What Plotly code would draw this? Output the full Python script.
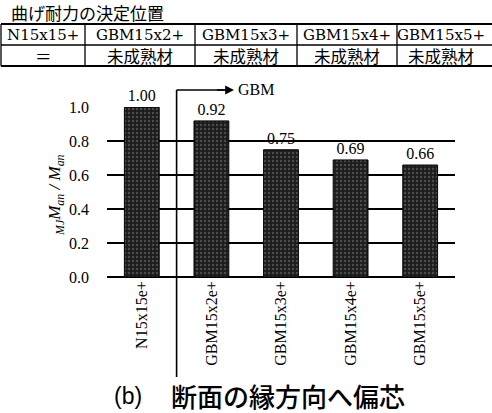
import plotly.graph_objects as go

categories = ["N15x15e+", "GBM15x2e+", "GBM15x3e+", "GBM15x4e+", "GBM15x5e+"]
values = [1.00, 0.92, 0.75, 0.69, 0.66]
y_ticks = [0.0, 0.2, 0.4, 0.6, 0.8, 1.0]
y_tick_text = ["0.0", "0.2", "0.4", "0.6", "0.8", "1.0"]
table_title = "曲げ耐力の決定位置"
table_header = ["N15x15+", "GBM15x2+", "GBM15x3+", "GBM15x4+", "GBM15x5+"]
table_row = ["＝", "未成熟材", "未成熟材", "未成熟材", "未成熟材"]
y_title = "<i><sub>MJ</sub>M<sub>an</sub> / M<sub>an</sub></i>"
caption_label = "(b)"
caption_text = "断面の縁方向へ偏芯"
group_label = "GBM"

W, H = 492, 413
L, R, T, B = 107, 455, 107, 277


def px_x(p):
    return (p - L) / (R - L)


def px_y(p):
    return (B - p) / (B - T)


SERIF = "Liberation Serif, Times New Roman, serif"
TSERIF = "DejaVu Serif, serif"
JP = "Noto Sans CJK JP, sans-serif"

fig = go.Figure()
fig.add_trace(go.Bar(
    x=categories, y=values, width=0.5,
    marker=dict(color="#1c1c1c", line=dict(color="#000", width=1),
                pattern=dict(shape=".", fgcolor="#7a7a7a", size=4, solidity=0.3)),
    text=[f"{v:.2f}" for v in values], textposition="outside",
    textfont=dict(family=SERIF, size=16, color="#000"),
    cliponaxis=False, showlegend=False,
))

fig.update_layout(
    width=W, height=H,
    margin=dict(l=L, r=W - R, t=T, b=H - B, autoexpand=False),
    paper_bgcolor="white", plot_bgcolor="white",
    bargap=0.5,
    xaxis=dict(range=[-0.5, 4.5], tickangle=-90, showgrid=False, ticks="",
               tickfont=dict(family=SERIF, size=16, color="#000"),
               showline=False, zeroline=False, fixedrange=True, automargin=False),
    yaxis=dict(range=[0, 1.002], tickvals=y_ticks, ticktext=y_tick_text,
               showgrid=True, gridcolor="#000", gridwidth=1.6,
               zeroline=True, zerolinecolor="#000", zerolinewidth=1.8,
               tickfont=dict(family=SERIF, size=16, color="#000"),
               ticklabelstandoff=17, showline=False, automargin=False),
)

shapes = []
ann = []
# separator line between N and GBM groups
shapes.append(dict(type="line", xref="x", yref="paper", x0=0.5, x1=0.5,
                   y0=px_y(377), y1=px_y(90), line=dict(color="#000", width=1.6)))
shapes.append(dict(type="line", xref="x", yref="paper", x0=0.5, x1=1.25,
                   y0=px_y(90), y1=px_y(90), line=dict(color="#000", width=1.6)))
# arrow head to GBM
ann.append(dict(xref="paper", yref="paper", x=px_x(234), y=px_y(90), text=" ",
                showarrow=True, arrowhead=2, arrowsize=1.1, arrowwidth=1.6,
                arrowcolor="#000", ax=-20, ay=0))
ann.append(dict(xref="paper", yref="paper", x=px_x(236), y=px_y(90), text=group_label,
                showarrow=False, xanchor="left", yanchor="middle",
                font=dict(family=SERIF, size=16, color="#000")))

# y axis title
ann.append(dict(xref="paper", yref="paper", x=px_x(56), y=px_y(195), text=y_title,
                showarrow=False, textangle=-90, xanchor="center", yanchor="middle",
                font=dict(family=SERIF, size=17, color="#000")))

# table
table_top, table_mid, table_bot = 24, 45, 66
col_edges = [1, 85, 195, 297, 397, 492]
for yy, w in [(table_top, 2), (table_mid, 1.3), (table_bot, 2)]:
    shapes.append(dict(type="line", xref="paper", yref="paper", x0=px_x(1), x1=px_x(492),
                       y0=px_y(yy), y1=px_y(yy), line=dict(color="#000", width=w)))
for xx in col_edges[:-1]:
    shapes.append(dict(type="line", xref="paper", yref="paper", x0=px_x(xx), x1=px_x(xx),
                       y0=px_y(table_top), y1=px_y(table_bot), line=dict(color="#000", width=1.3)))
for i in range(len(table_header)):
    cx = (col_edges[i] + col_edges[i + 1]) / 2
    if i == len(table_header) - 1:
        cx = 441
    ann.append(dict(xref="paper", yref="paper", x=px_x(cx), y=px_y((table_top + table_mid) / 2 + 0.5),
                    text=table_header[i], showarrow=False, xanchor="center", yanchor="middle",
                    font=dict(family=TSERIF, size=15, color="#000")))
    ann.append(dict(xref="paper", yref="paper", x=px_x(cx), y=px_y((table_mid + table_bot) / 2 + 0.5),
                    text=table_row[i], showarrow=False, xanchor="center", yanchor="middle",
                    font=dict(family=JP, size=16.5, color="#000")))
ann.append(dict(xref="paper", yref="paper", x=px_x(9), y=px_y(12), text=table_title,
                showarrow=False, xanchor="left", yanchor="middle",
                font=dict(family=JP, size=17, color="#000")))

# caption
ann.append(dict(xref="paper", yref="paper", x=px_x(112), y=px_y(396), text=caption_label,
                showarrow=False, xanchor="left", yanchor="middle",
                font=dict(family="Liberation Sans, Arial, sans-serif", size=23, color="#000")))
ann.append(dict(xref="paper", yref="paper", x=px_x(169), y=px_y(395), text=caption_text,
                showarrow=False, xanchor="left", yanchor="middle",
                font=dict(family=JP, size=26, color="#000", weight=500)))

fig.update_layout(shapes=shapes, annotations=ann)
fig.write_html("out.html", config={"displayModeBar": False},
               post_script="document.body.style.margin='0';document.body.style.overflow='hidden';")
